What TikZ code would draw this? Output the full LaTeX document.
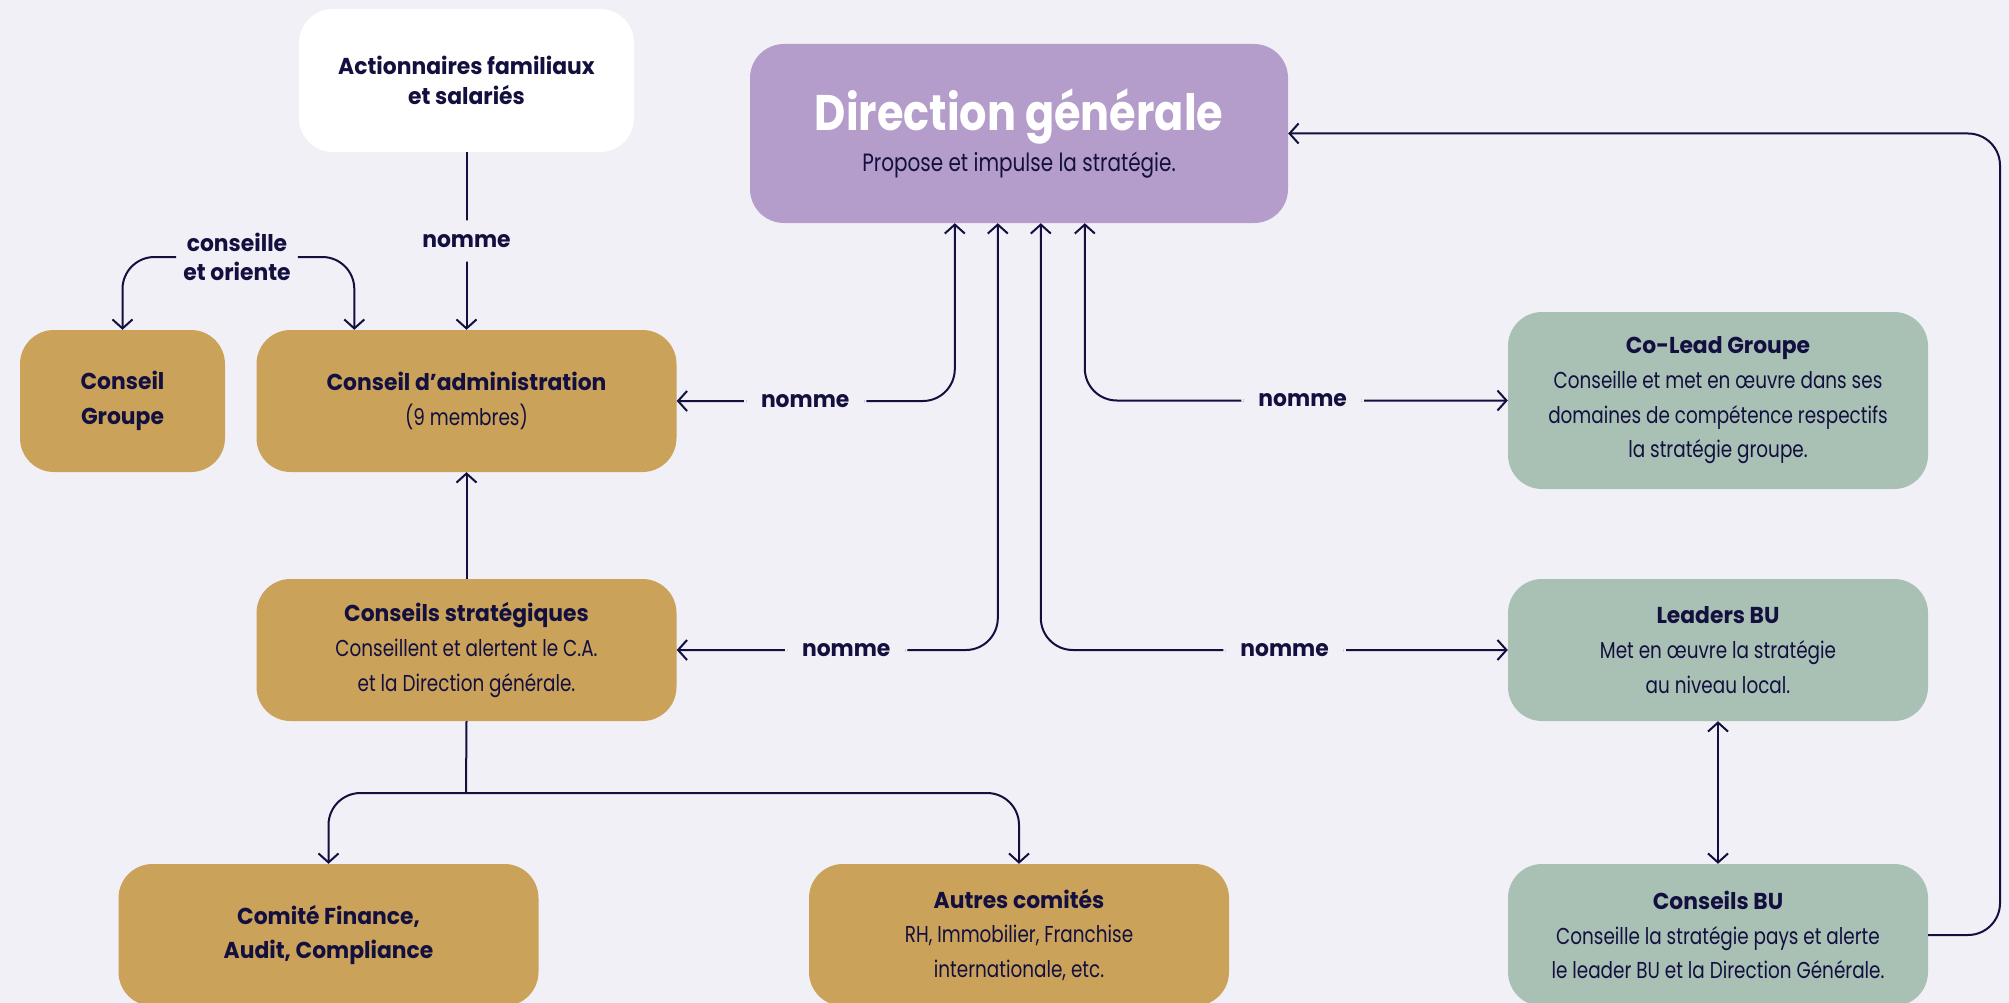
\documentclass[tikz,border=0pt]{standalone}
\usepackage{fontspec}
\setmainfont{Poppins}[FakeStretch=0.8, BoldFeatures={FakeStretch=0.95}]
\newfontfamily\dgfont{Poppins}[FakeStretch=0.86]
\usetikzlibrary{arrows.meta,calc}
\definecolor{bg}{HTML}{F2F0F7}
\definecolor{navy}{HTML}{13103F}
\definecolor{lav}{HTML}{B49DCA}
\definecolor{gold}{HTML}{CBA259}
\definecolor{sage}{HTML}{A9C1B5}
\newcommand{\bodyfont}{\fontsize{23}{34.7}\selectfont}
\begin{document}
\begin{tikzpicture}[x=1pt,y=-1pt,
  >={Straight Barb[length=9pt,width=20pt]},
  box/.style={rounded corners=34pt, minimum height=142pt, align=center, inner sep=0pt, text=navy, font=\bodyfont},
  goldbox/.style={box, fill=gold, minimum width=420pt},
  sagebox/.style={box, fill=sage, minimum width=420pt},
  conn/.style={draw=navy, line width=2pt, rounded corners=32pt},
  lbl/.style={fill=bg, text=navy, font=\bodyfont\bfseries, inner xsep=17pt, inner ysep=14pt}]
\fill[bg] (0,0) rectangle (2009,1003);
\useasboundingbox (0,0) rectangle (2009,1003);

% nodes
\node[box, fill=white, minimum width=335pt, minimum height=143pt, font=\fontsize{23}{30}\selectfont\bfseries] (act) at (466.5,80.5) {Actionnaires familiaux\\et salariés};
\node[box, fill=lav, minimum width=538pt, minimum height=179pt] (dg) at (1019,133.5) {{\color{white}\dgfont\fontsize{50}{50}\selectfont\bfseries Direction générale}\\[6pt]{\fontsize{25}{34.7}\selectfont Propose et impulse la stratégie.}};
\node[goldbox, minimum width=205pt] (cg) at (122.5,401) {\textbf{Conseil}\\\textbf{Groupe}};
\node[goldbox] (ca) at (466.5,401) {\textbf{Conseil d’administration}\\(9 membres)};
\node[sagebox, minimum height=177pt] (colead) at (1718,400.5) {\textbf{Co-Lead Groupe}\\Conseille et met en œuvre dans ses\\domaines de compétence respectifs\\la stratégie groupe.};
\node[goldbox] (cs) at (466.5,650) {\textbf{Conseils stratégiques}\\Conseillent et alertent le C.A.\\et la Direction générale.};
\node[sagebox] (lbu) at (1718,650) {\textbf{Leaders BU}\\Met en œuvre la stratégie\\au niveau local.};
\node[goldbox] (cf) at (328.5,935) {\textbf{Comité Finance,}\\\textbf{Audit, Compliance}};
\node[goldbox] (ac) at (1019,935) {\textbf{Autres comités}\\RH, Immobilier, Franchise\\internationale, etc.};
\node[sagebox] (cbu) at (1718,935) {\textbf{Conseils BU}\\Conseille la stratégie pays et alerte\\le leader BU et la Direction Générale.};

\node[text=navy, align=center, font=\fontsize{23}{29}\selectfont\bfseries, inner xsep=7pt, inner ysep=0pt] (co) at (237,257) {conseille\\et oriente};

% connectors
\draw[conn,->] (act.south) -- node[lbl]{nomme} (ca.north);
\draw[conn,->] (co.west) -| (cg.north);
\draw[conn,->] (co.east) -| ($(ca.north west)+(98,0)$);

\draw[conn,<->] (ca.east) -| node[lbl,pos=0.231]{nomme} ($(dg.south west)+(205,0)$);
\draw[conn,<->] (colead.west) -| node[lbl,pos=0.2425]{nomme} ($(dg.south west)+(335,0)$);
\draw[conn,<->] (cs.east) -| node[lbl,pos=0.264]{nomme} ($(dg.south west)+(248,0)$);
\draw[conn,<->] (lbu.west) -| node[lbl,pos=0.239]{nomme} ($(dg.south west)+(291,0)$);

\draw[conn,->] (cs.north) -- (ca.south);
\coordinate (split) at (466,793);
\draw[conn] (cs.south) -- (split);
\draw[conn,->] (split) -| (cf.north);
\draw[conn,->] (split) -| (ac.north);

\draw[conn,<->] (lbu.south) -- (cbu.north);
\coordinate (rturn) at (2000,935);
\draw[conn,->] (cbu.east) -- (rturn) |- (dg.east);
\end{tikzpicture}
\end{document}
